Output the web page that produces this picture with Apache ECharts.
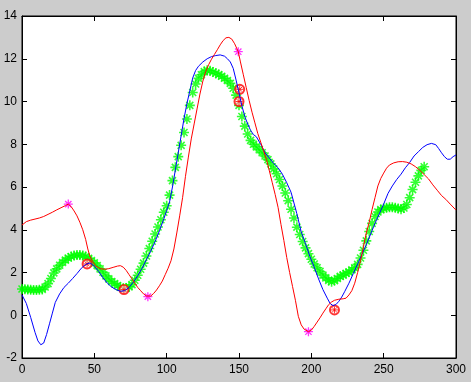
<!DOCTYPE html>
<html>
<head>
<meta charset="utf-8">
<script src="https://cdn.jsdelivr.net/npm/echarts@6/dist/echarts.min.js"></script>
<style>
  html, body { margin: 0; padding: 0; background: #cccccc; }
  #main { width: 471px; height: 382px; }
</style>
</head>
<body>
<div id="main"></div>
<script>
  // tick labels
  var xTicks = [0, 50, 100, 150, 200, 250, 300];
  var yTicks = [-2, 0, 2, 4, 6, 8, 10, 12, 14];

  // blue line [x, y]
  var blueX = [0, 3, 6, 9, 11, 13, 15, 17, 19, 21, 23, 26, 29, 32, 35, 38, 41, 44, 47, 50, 53, 56, 59, 62, 65, 68, 71, 74, 77, 80,
    83, 86, 89, 92, 95, 98, 100, 102, 104, 106, 108, 110, 112, 114, 116, 118, 120, 122, 125, 128, 131, 134, 137, 140, 142, 144,
    146, 148, 150, 152, 154, 156, 158, 160, 162, 165, 168, 171, 174, 177, 180, 183, 186, 188, 190, 193, 196, 199, 202, 205, 208,
    211, 213, 215, 217, 219, 221, 223, 226, 229, 232, 235, 238, 241, 244, 247, 250, 253, 256, 259, 262, 265, 268, 271, 274, 277,
    280, 283, 286, 288, 290, 292, 294, 296, 298, 300];
  var blueY = [0.95, 0.55, -0.1, -0.8, -1.2, -1.38, -1.3, -0.9, -0.4, 0.1, 0.6, 1.0, 1.3, 1.5, 1.72, 1.95, 2.2, 2.38, 2.45, 2.3,
    2.05, 1.75, 1.5, 1.32, 1.2, 1.12, 1.15, 1.3, 1.55, 1.85, 2.2, 2.6, 3.0, 3.45, 3.95, 4.5, 4.9, 5.3, 6.0, 6.8, 7.6, 8.4, 9.2,
    9.9, 10.5, 11.1, 11.45, 11.65, 11.85, 12.0, 12.1, 12.15, 12.18, 12.12, 12.0, 11.85, 11.55, 11.0, 10.4, 9.8, 9.3, 8.95, 8.65,
    8.45, 8.35, 8.0, 7.6, 7.35, 7.1, 6.9, 6.6, 6.2, 5.75, 5.25, 4.75, 3.9, 3.35, 2.75, 2.25, 1.7, 1.2, 0.8, 0.55, 0.45, 0.5,
    0.65, 0.85, 1.1, 1.5, 1.95, 2.4, 2.85, 3.3, 3.8, 4.3, 4.75, 5.2, 5.7, 6.05, 6.35, 6.6, 6.9, 7.15, 7.45, 7.65, 7.85, 7.98,
    8.04, 7.98, 7.8, 7.6, 7.42, 7.3, 7.3, 7.42, 7.5];

  // red line
  var redX = [0, 3, 6, 9, 12, 15, 18, 21, 24, 27, 30, 32, 34, 36, 38, 40, 42, 44, 45.5, 47, 49, 51, 54, 57, 60, 63, 66, 68, 70,
    72, 74, 76, 78, 80, 82, 84, 86, 87, 89, 91, 93, 95, 97, 99, 101, 103, 105, 107, 109, 111, 113, 115, 117, 119, 121, 123, 125,
    127, 129, 131, 133, 135, 137, 139, 141, 143, 145, 147, 149.5, 151, 153, 155, 157, 159, 161, 163, 165, 167, 169, 171, 173,
    175, 177, 179, 181, 183, 185, 187, 189, 191, 193, 195, 198, 200, 202, 204, 206, 208, 210, 212, 214, 216, 219, 222, 224, 226,
    228, 230, 232, 234, 236, 238, 240, 242, 244, 246, 248, 250, 252, 254, 257, 260, 263, 266, 269, 272, 275, 278, 281, 284, 287,
    290, 293, 296, 300];
  var redY = [4.22, 4.38, 4.45, 4.5, 4.55, 4.62, 4.72, 4.82, 4.93, 5.03, 5.13, 5.2, 5.08, 4.88, 4.65, 4.35, 4.0, 3.55, 3.1, 2.75,
    2.5, 2.3, 2.18, 2.15, 2.18, 2.24, 2.3, 2.32, 2.25, 2.1, 1.9, 1.7, 1.5, 1.3, 1.15, 1.0, 0.9, 0.87, 0.9, 1.02, 1.18, 1.38, 1.6,
    1.9, 2.2, 2.55, 3.1, 3.85, 4.65, 5.5, 6.5, 7.4, 8.25, 8.95, 9.65, 10.35, 10.95, 11.4, 11.72, 11.98, 12.2, 12.42, 12.65,
    12.85, 12.98, 13.0, 12.92, 12.7, 12.33, 11.85, 11.25, 10.65, 10.05, 9.5, 9.0, 8.5, 8.1, 7.7, 7.28, 6.75, 6.2, 5.65, 5.05,
    4.25, 3.5, 2.7, 2.0, 1.35, 0.7, -0.05, -0.45, -0.65, -0.77, -0.7, -0.52, -0.32, -0.12, 0.1, 0.3, 0.5, 0.62, 0.7, 0.75,
    0.77, 0.8, 0.95, 1.15, 1.5, 2.0, 2.55, 3.2, 3.85, 4.35, 4.95, 5.5, 6.05, 6.4, 6.65, 6.88, 7.03, 7.13, 7.18, 7.19, 7.16,
    7.08, 6.95, 6.78, 6.58, 6.38, 6.1, 5.85, 5.6, 5.42, 5.2, 4.92];

  // green asterisks, every 2 units from 0 to 278
  var greenX = [];
  for (var i = 0; i <= 278; i += 2) greenX.push(i);
  var greenY = [1.23, 1.22, 1.2, 1.19, 1.18, 1.18, 1.19, 1.21, 1.32, 1.48, 1.72, 1.98, 2.17, 2.34, 2.47, 2.58, 2.68, 2.75, 2.79,
    2.82, 2.82, 2.79, 2.75, 2.66, 2.56, 2.45, 2.32, 2.17, 2.01, 1.84, 1.7, 1.58, 1.48, 1.39, 1.31, 1.26, 1.27, 1.33, 1.43, 1.64,
    1.87, 2.15, 2.44, 2.77, 3.12, 3.46, 3.8, 4.13, 4.47, 4.82, 5.12, 5.62, 6.3, 6.92, 7.42, 7.95, 8.55, 9.18, 9.82, 10.42,
    10.82, 11.08, 11.25, 11.4, 11.46, 11.44, 11.38, 11.32, 11.26, 11.18, 11.09, 10.98, 10.85, 10.62, 10.3, 9.82, 9.3, 8.85,
    8.48, 8.18, 8.0, 7.88, 7.74, 7.6, 7.45, 7.28, 7.08, 6.85, 6.62, 6.35, 6.05, 5.72, 5.36, 4.96, 4.55, 4.12, 3.78, 3.45, 3.15,
    2.88, 2.62, 2.4, 2.22, 2.05, 1.88, 1.75, 1.63, 1.57, 1.62, 1.72, 1.82, 1.88, 1.96, 2.02, 2.12, 2.22, 2.38, 2.68, 3.04,
    3.48, 3.92, 4.3, 4.62, 4.83, 4.95, 5.0, 5.03, 5.05, 5.05, 5.03, 5.0, 4.96, 5.02, 5.18, 5.5, 5.88, 6.22, 6.52, 6.78, 6.95];

  // magenta stars and red circled points
  var magX = [32, 87, 149.5, 198];
  var magY = [5.2, 0.87, 12.33, -0.77];
  var circX = [45, 70.5, 150.5, 150, 216];
  var circY = [2.4, 1.2, 10.57, 10.0, 0.25];

  function pairs(xs, ys) {
    return xs.map(function (x, k) { return [x, ys[k]]; });
  }

  var star = 'path://M5,0L5,10M0,5L10,5M1.5,1.5L8.5,8.5M1.5,8.5L8.5,1.5';

  var chart = echarts.init(document.getElementById('main'));
  var tickLabel = { color: '#000', fontSize: 12, fontFamily: 'Arial, "Liberation Sans", sans-serif' };

  function axis(dim, pos, min, max, step, labels) {
    return {
      type: 'value', min: min, max: max, interval: step, position: pos,
      axisLine: { show: true, onZero: false, lineStyle: { color: '#000' } },
      axisTick: { show: true, inside: true, length: 5, lineStyle: { color: '#000' } },
      axisLabel: labels ? Object.assign({ margin: dim === 'x' ? 6 : 5 }, tickLabel) : { show: false },
      splitLine: { show: false }
    };
  }

  chart.setOption({
    animation: false,
    backgroundColor: '#cccccc',
    grid: { left: 22, right: 15, top: 16, bottom: 24, show: true, backgroundColor: '#fff', borderColor: '#000', borderWidth: 1 },
    xAxis: [
      axis('x', 'bottom', xTicks[0], xTicks[xTicks.length - 1], 50, true),
      axis('x', 'top', xTicks[0], xTicks[xTicks.length - 1], 50, false)
    ],
    yAxis: [
      axis('y', 'left', yTicks[0], yTicks[yTicks.length - 1], 2, true),
      axis('y', 'right', yTicks[0], yTicks[yTicks.length - 1], 2, false)
    ],
    series: [
      { type: 'line', data: pairs(blueX, blueY), showSymbol: false, lineStyle: { color: '#0000ff', width: 1 } },
      { type: 'line', data: pairs(redX, redY), showSymbol: false, lineStyle: { color: '#ff0000', width: 1 } },
      { type: 'scatter', data: pairs(greenX, greenY), symbol: star, symbolSize: 10,
        itemStyle: { color: 'none', borderColor: '#00ff00', borderWidth: 1.6 } },
      { type: 'scatter', data: pairs(magX, magY), symbol: star, symbolSize: 9,
        itemStyle: { color: 'none', borderColor: '#ff00ff', borderWidth: 1.3 } },
      { type: 'scatter', data: pairs(circX, circY), symbol: 'emptyCircle', symbolSize: 9,
        itemStyle: { color: '#ff0000', borderColor: '#ff0000', borderWidth: 1 } },
      { type: 'scatter', data: pairs(circX, circY), symbol: star, symbolSize: 7,
        itemStyle: { color: 'none', borderColor: '#ff0000', borderWidth: 1 } }
    ]
  });
</script>
</body>
</html>
